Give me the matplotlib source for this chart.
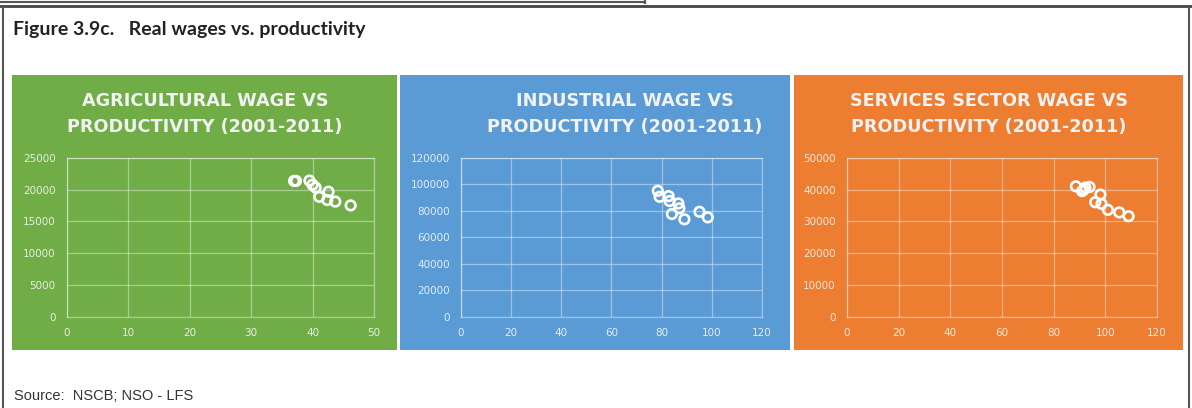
import matplotlib.pyplot as plt
import numpy as np
from matplotlib.patches import Rectangle
from matplotlib.lines import Line2D

# productivity (x) vs real wage (y), 2001-2011
agri_x = [37.0, 37.3, 39.5, 40.0, 40.5, 41.1, 42.6, 42.4, 43.7, 46.2]
agri_y = [21350, 21350, 21400, 20750, 20300, 18850, 19650, 18350, 18100, 17500]

ind_x = [78.5, 79.2, 82.8, 83.2, 86.7, 87.1, 84.1, 89.1, 95.1, 98.4]
ind_y = [95000, 90500, 91000, 87300, 85500, 81800, 77500, 73500, 79200, 75000]

serv_x = [88.6, 91.0, 91.6, 92.3, 93.9, 98.1, 96.1, 98.5, 101.0, 105.4, 109.0]
serv_y = [41000, 39500, 39900, 40600, 40800, 38400, 36000, 35500, 33600, 32800, 31600]

titles = ['AGRICULTURAL WAGE VS\nPRODUCTIVITY (2001-2011)',
          'INDUSTRIAL WAGE VS\nPRODUCTIVITY (2001-2011)',
          'SERVICES SECTOR WAGE VS\nPRODUCTIVITY (2001-2011)']
colors = ['#70AD47', '#5B9BD5', '#ED7D31']
xmax = [50, 120, 120]
xstep = [10, 20, 20]
ymax = [25000, 120000, 50000]
ystep = [5000, 20000, 10000]

W, H = 1192, 408
fig = plt.figure(figsize=(W / 100, H / 100), dpi=100)

def fx(px):
    return px / W

def fy(py):
    return 1 - py / H

# outer frame
for (x0, y0, x1, y1, lw, c) in [(0, 1.5, 645, 1.5, 1.5, '#555555'),
                                (645, 0, 645, 3, 1.5, '#555555'),
                                (0, 5.5, W, 5.5, 2.0, '#444444'),
                                (2.5, 5.5, 2.5, H, 1.5, '#555555'),
                                (1189, 5.5, 1189, H, 1.5, '#555555')]:
    fig.add_artist(Line2D([fx(x0), fx(x1)], [fy(y0), fy(y1)], lw=lw, color=c))

fig.text(fx(13), fy(30), 'Figure 3.9c.   Real wages vs. productivity',
         fontsize=14, fontweight='bold', family='Lato', color='#222222',
         va='center', ha='left')

panels = [(12, 397), (400, 790), (794, 1183)]
plots = [(66.7, 374), (460.7, 762), (847, 1157)]
title_cx = [205, 625, 989]
data = [(agri_x, agri_y), (ind_x, ind_y), (serv_x, serv_y)]

for i in range(3):
    p0, p1 = panels[i]
    fig.add_artist(Rectangle((fx(p0), fy(350)), fx(p1 - p0), (350 - 75) / H,
                             facecolor=colors[i], edgecolor='none', zorder=0))
    fig.text(fx(title_cx[i]), fy(114), titles[i], ha='center', va='center',
             fontsize=12.7, fontweight='bold', family='DejaVu Sans',
             color='#F2F2F2', linespacing=1.6)
    a0, a1 = plots[i]
    ax = fig.add_axes([fx(a0), fy(316.7), fx(a1 - a0), (316.7 - 157.7) / H])
    ax.set_facecolor('none')
    xs, ys = data[i]
    ax.scatter(xs, ys, s=48, facecolors='none', edgecolors='white',
               linewidths=1.9, zorder=3)
    ax.set_xlim(0, xmax[i])
    ax.set_ylim(0, ymax[i])
    ax.set_xticks(np.arange(0, xmax[i] + 1, xstep[i]))
    ax.set_yticks(np.arange(0, ymax[i] + 1, ystep[i]))
    ax.grid(True, color='white', alpha=0.4, lw=0.9)
    for s in ax.spines.values():
        s.set_color((1, 1, 1, 0.4))
        s.set_linewidth(0.9)
    ax.tick_params(length=0, labelsize=7.5, labelcolor=(1, 1, 1, 0.82))
    ax.tick_params(axis='y', pad=8)
    ax.tick_params(axis='x', pad=8)

fig.text(fx(14), fy(396), 'Source:  NSCB; NSO - LFS', fontsize=10.5,
         family='Liberation Sans', color='#333333', va='center', ha='left')

plt.savefig('out.png', dpi=100)
